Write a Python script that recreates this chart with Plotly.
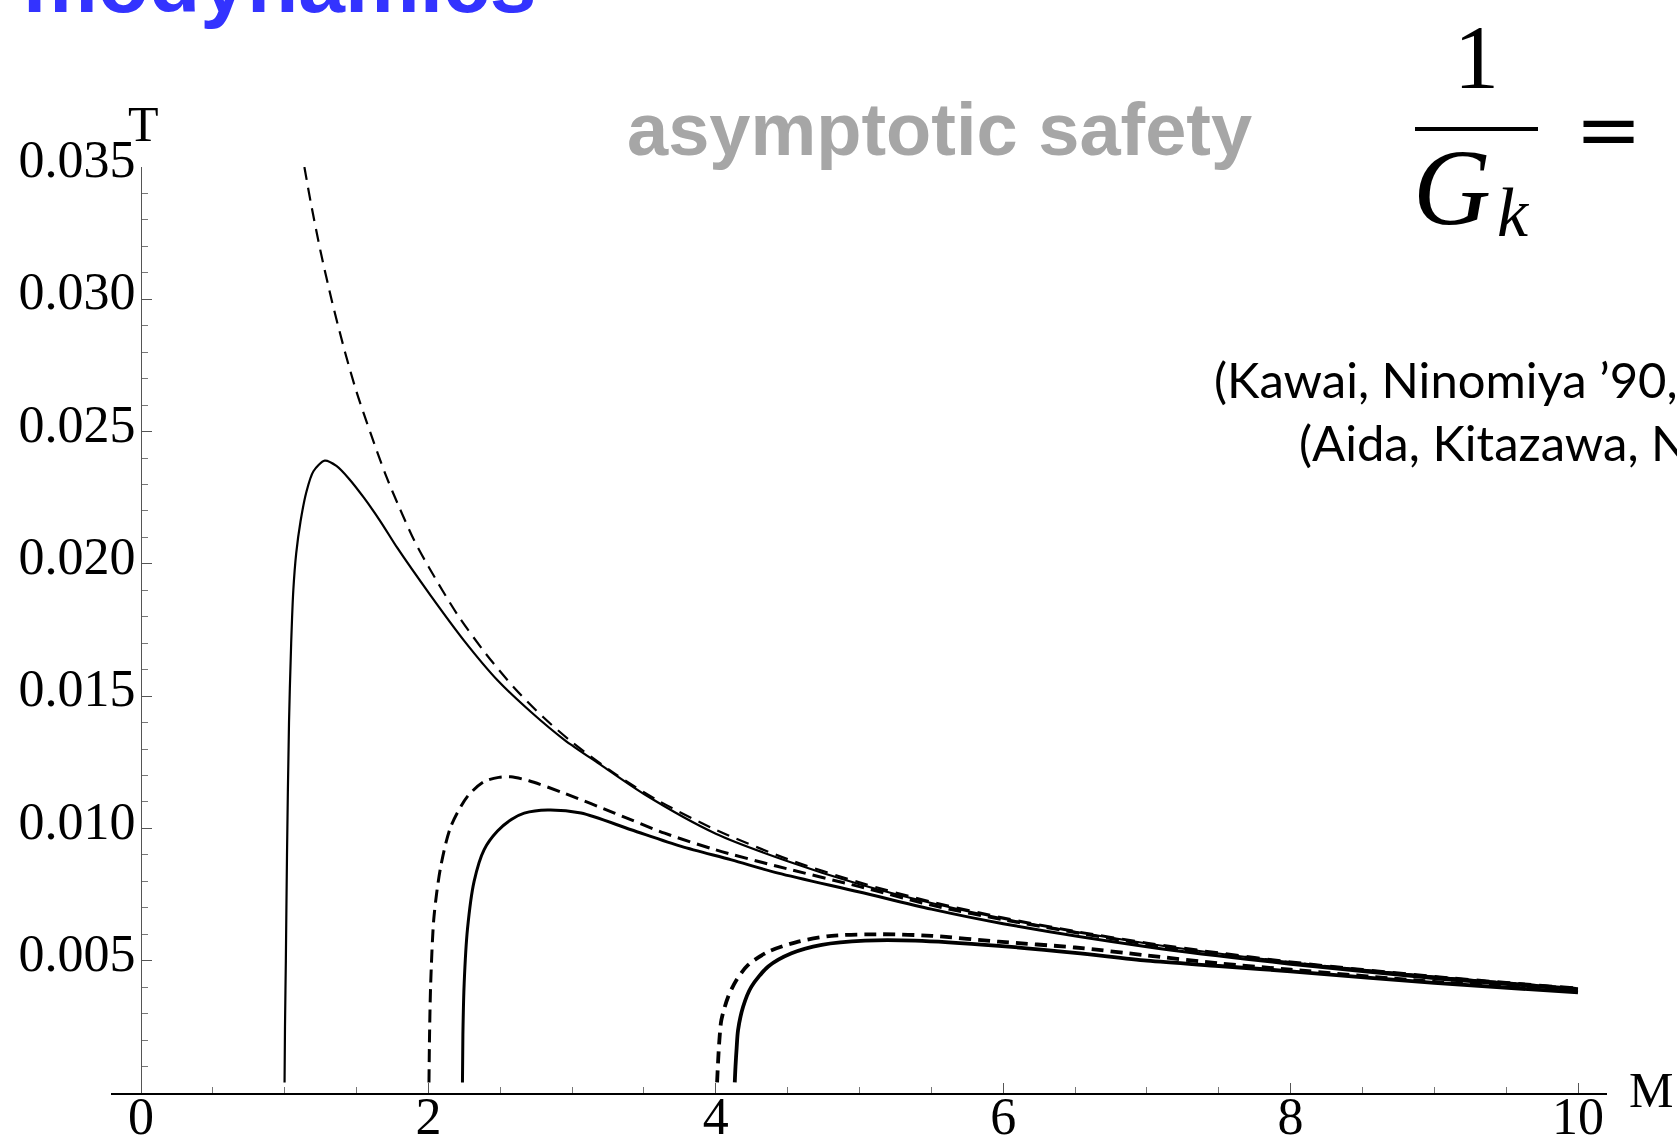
import plotly.graph_objects as go

# ---------------- data ----------------
M1 = [1.137, 1.18, 1.25, 1.33, 1.42, 1.5, 1.6, 1.7, 1.8, 1.9, 2.0, 2.2, 2.4, 2.6, 2.8, 3.0,
      3.3, 3.6, 4.0, 4.5, 5.0, 5.5, 6.0, 6.5, 7.0, 7.5, 8.0, 8.5, 9.0, 9.5, 10.0]
T1 = [0.0350, 0.0337, 0.0318, 0.0299, 0.0280, 0.0265, 0.0249, 0.0234, 0.0221, 0.0209, 0.0199,
      0.0181, 0.0166, 0.0153, 0.0142, 0.01326, 0.01206, 0.01105, 0.00995, 0.00884, 0.00796,
      0.00723, 0.00663, 0.00612, 0.00568, 0.00531, 0.00497, 0.00468, 0.00442, 0.00419, 0.00398]

M2 = [0.999, 1.002, 1.008, 1.016, 1.030, 1.045, 1.060, 1.080, 1.110, 1.150, 1.200, 1.279, 1.36,
      1.45, 1.551, 1.667, 1.784, 2.016, 2.248, 2.481, 2.714, 2.946, 3.2, 3.5, 4.0, 4.5, 5.0,
      5.5, 6.0, 7.0, 8.0, 9.0, 10.0]
T2 = [0.0004, 0.0025, 0.0050, 0.0090, 0.0140, 0.0170, 0.0190, 0.0204, 0.0216, 0.0227, 0.0235,
      0.0239, 0.0237, 0.0232, 0.0225, 0.0216, 0.0206, 0.0188, 0.0171, 0.0156, 0.0144, 0.01335,
      0.0124, 0.0113, 0.0098, 0.00876, 0.00789, 0.00718, 0.00659, 0.00565, 0.00494, 0.0044,
      0.00396]

M3 = [2.004, 2.008, 2.016, 2.039, 2.086, 2.156, 2.272, 2.388, 2.49, 2.574, 2.70, 2.946, 3.295,
      3.644, 4.0, 4.434, 5.0, 5.5, 6.0, 7.0, 8.0, 9.0, 10.0]
T3 = [0.0004, 0.0022, 0.00415, 0.00667, 0.00856, 0.01007, 0.01121, 0.01177, 0.01193, 0.01195,
      0.0118, 0.01133, 0.01058, 0.00982, 0.00919, 0.00856, 0.0078, 0.0071, 0.00655, 0.00562,
      0.00493, 0.00438, 0.00394]

M4 = [2.237, 2.240, 2.249, 2.272, 2.318, 2.388, 2.481, 2.58, 2.667, 2.83, 3.062, 3.411, 3.76,
      4.109, 4.434, 5.0, 5.5, 6.0, 7.0, 8.0, 9.0, 10.0]
T4 = [0.0004, 0.0022, 0.00415, 0.0062, 0.0080, 0.0092, 0.0099, 0.01035, 0.01058, 0.0107,
      0.01058, 0.00995, 0.00932, 0.00881, 0.00831, 0.0076, 0.00695, 0.0064, 0.00553, 0.00487,
      0.00433, 0.0039]

M5 = [4.009, 4.016, 4.025, 4.039, 4.086, 4.144, 4.225, 4.365, 4.574, 4.806, 5.155, 5.504,
      5.969, 6.5, 7.0, 7.5, 8.0, 9.0, 10.0]
T5 = [0.0004, 0.0012, 0.0020, 0.00276, 0.00364, 0.00427, 0.00484, 0.00534, 0.00572, 0.00594,
      0.0060, 0.00594, 0.00572, 0.0055, 0.0052, 0.0049, 0.00466, 0.0042, 0.00387]

M6 = [4.132, 4.137, 4.145, 4.155, 4.19, 4.248, 4.365, 4.527, 4.737, 5.039, 5.388, 5.969, 6.5,
      7.0, 7.5, 8.0, 9.0, 10.0]
T6 = [0.0004, 0.0010, 0.0017, 0.00238, 0.00326, 0.00402, 0.00478, 0.00528, 0.0056, 0.00576,
      0.00576, 0.00556, 0.0053, 0.0050, 0.0048, 0.0046, 0.00416, 0.0038]

x_ticks = [0, 2, 4, 6, 8, 10]
x_tick_labels = ["0", "2", "4", "6", "8", "10"]
y_ticks = [0.005, 0.010, 0.015, 0.020, 0.025, 0.030, 0.035]
y_tick_labels = ["0.005", "0.010", "0.015", "0.020", "0.025", "0.030", "0.035"]

# ---------------- geometry ----------------
W, H = 1677, 1142
L, R, TOP, B = 111, 70, 167, 49
PW, PH = W - L - R, H - TOP - B


def px(x):
    return (x - L) / PW


def py(y):
    return (H - B - y) / PH


SERIF = "Liberation Serif, Times New Roman, serif"
SANS = "Liberation Sans, Arial, sans-serif"
GILL = "Lato, Open Sans, sans-serif"

fig = go.Figure()


def add(xs, ys, width, dash):
    fig.add_trace(go.Scatter(x=xs, y=ys, mode="lines", showlegend=False, hoverinfo="skip",
                             line=dict(color="black", width=width, dash=dash,
                                       shape="spline", smoothing=0.8)))


add(M1, T1, 2.2, "13px,8px")
add(M2, T2, 2.2, "solid")
add(M3, T3, 3.0, "13px,7px")
add(M4, T4, 3.0, "solid")
add(M5, T5, 3.8, "12px,7px")
add(M6, T6, 3.8, "solid")

fig.update_layout(
    width=W, height=H,
    margin=dict(l=L, r=R, t=TOP, b=B, pad=0, autoexpand=False),
    paper_bgcolor="white", plot_bgcolor="white",
    xaxis=dict(range=[(L - 141) / 143.7, (W - R - 141) / 143.7], showgrid=False, zeroline=False,
               automargin=False,
               showline=True, linecolor="black", linewidth=1.6,
               tickmode="array", tickvals=x_ticks, ticktext=x_tick_labels,
               ticks="inside", ticklen=10, tickwidth=1.2, tickcolor="#555",
               ticklabelstandoff=-23,
               minor=dict(ticks="inside", ticklen=6, tickwidth=1.0, tickcolor="#777",
                          tickmode="linear", tick0=0, dtick=0.5),
               tickfont=dict(family=SERIF, size=52, color="black")),
    yaxis=dict(range=[0, 0.035], showgrid=False, zeroline=False,
               automargin=False,
               anchor="free", position=px(141),
               showline=True, linecolor="#555", linewidth=1.4,
               tickmode="array", tickvals=y_ticks, ticktext=y_tick_labels,
               ticks="inside", ticklen=10, tickwidth=1.2, tickcolor="#555",
               ticklabelstandoff=-5, ticklabelshift=-8,
               minor=dict(ticks="inside", ticklen=6, tickwidth=1.0, tickcolor="#777",
                          tickmode="linear", tick0=0, dtick=0.001),
               tickfont=dict(family=SERIF, size=52, color="black")),
)


def ann(text, x, y, size, family, color="black", xanchor="center", yanchor="middle", **kw):
    fig.add_annotation(text=text, x=px(x), y=py(y), xref="paper", yref="paper",
                       xanchor=xanchor, yanchor=yanchor, showarrow=False,
                       font=dict(family=family, size=size, color=color), **kw)


# axis labels
ann("T", 143, 124, 50, SERIF)
ann("M", 1651, 1090, 50, SERIF)

# slide texts
ann("<b>modynamics</b>", 21, -17, 84, SANS, color="#3333FF", xanchor="left")
ann("<b>asymptotic safety</b>", 625, 130, 74, SANS, color="#A6A6A6", xanchor="left")
ann("1", 1476, 58, 90, SERIF)
ann("<i>G</i>", 1452, 188, 108, SERIF)
ann("<i>k</i>", 1513, 213, 70, SERIF)
ann("=", 1608, 129, 80, "DejaVu Serif, serif")
ann("(Kawai, Ninomiya ’90,", 1212, 379, 49, GILL, xanchor="left")
ann("(Aida, Kitazawa, N", 1297, 442, 49, GILL, xanchor="left")

# fraction bar
fig.add_shape(type="line", xref="paper", yref="paper", x0=px(1415), x1=px(1538),
              y0=py(129), y1=py(129), line=dict(color="black", width=4))

fig.write_html("out.html", config={"displayModeBar": False},
               post_script="document.body.style.margin='0';document.body.style.overflow='hidden';")
